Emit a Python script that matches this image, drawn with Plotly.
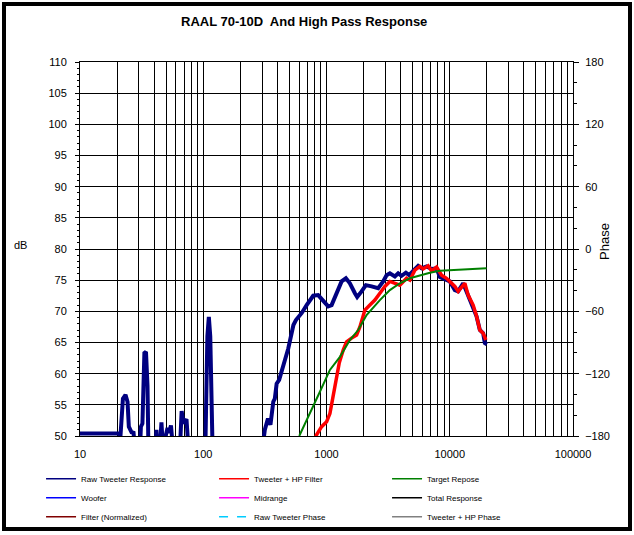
import plotly.graph_objects as go

# frequency response readings (Hz, dB)
raw_freq = [10, 20.7, 21.3, 22.3, 23.4,
            24.3, 24.9, 26.2, 27.2, 27.9,
            30.7, 31.2, 32.1, 33.3, 34.3,
            35.3, 35.9, 40.9, 41.7, 42.5,
            44.5, 45.8, 47.1, 51.3, 52.7,
            54.7, 56.8, 64.7, 66.8, 69.1,
            73.1, 75.8, 104, 108, 111,
            114, 119, 302, 316, 335,
            351, 370, 381, 394, 413,
            432, 460, 489, 521, 539,
            565, 628, 690, 780, 856,
            940, 1032, 1100, 1207, 1326,
            1437, 1548, 1700, 1774, 1926,
            2087, 2321, 2626, 2884, 3072,
            3267, 3586, 3815, 4064, 4405,
            4685, 5050, 5543, 5906, 6486,
            7118, 7816, 8313, 9128, 10020,
            11000, 11700, 12850, 13690, 14560,
            15490, 16500, 17540, 18660, 19270,
            20000]
raw_db = [50.4, 50.4, 50.0, 56.0, 56.6,
          55.5, 51.5, 50.6, 50.5, 48,
          48, 51.5, 52.0, 63.3, 63.5,
          58.0, 48, 48, 51.0, 48,
          48, 52.2, 48, 51.3, 50.5,
          51.7, 48, 48, 54.0, 52.0,
          52.7, 48, 48, 66.0, 69.1,
          66.0, 48, 48, 51.0, 52.8,
          51.8, 55.5, 56.0, 58.4, 59.0,
          60.5, 62.2, 64.0, 66.5, 67.8,
          68.6, 69.7, 71.0, 72.5, 72.6,
          71.8, 70.8, 71.0, 72.9, 74.8,
          75.3, 74.5, 72.9, 72.3, 73.2,
          74.2, 74.0, 73.7, 74.8, 75.8,
          76.1, 75.6, 76.1, 75.7, 76.2,
          75.8, 76.5, 77.3, 76.9, 77.2,
          76.8, 76.9, 75.5, 75.1, 74.8,
          73.4, 73.2, 74.5, 73.2, 71.8,
          70.8, 69.2, 67.0, 66.5, 64.9,
          64.7]

hp_freq = [810, 831, 913, 1002, 1066, 1133, 1207, 1268, 1366, 1455, 1598,
           1754, 1866, 2048, 2249, 2469, 2711, 2976, 3267, 3586, 3937,
           4462, 4747, 5212, 5722, 6084, 6680, 7118, 7816, 8582, 9420,
           10020, 11000, 11700, 13260, 14100, 15490, 16500, 17540, 18660, 19630]
hp_db = [49.6, 50.2, 51.5, 52.3, 53.6, 56.3, 59.0, 61.7, 63.8, 65.1, 65.7,
         66.2, 67.5, 70.2, 71.0, 71.8, 72.9, 74.0, 74.8, 74.5, 74.2,
         75.3, 75.0, 76.6, 77.2, 76.8, 77.3, 76.5, 77.1, 75.8, 75.3,
         74.8, 74.0, 73.2, 74.5, 72.6, 71.0, 69.2, 67.0, 66.5, 65.4]

target_freq = [601, 734, 884, 1066, 1285, 1548, 1807, 2114, 2249, 2711,
               3267, 3937, 4747, 5722, 6897, 8313, 10660, 13690, 19890]
target_db = [50.0, 53.6, 57.1, 60.6, 62.7, 65.4, 67.0, 69.4, 70.0, 71.8,
             73.4, 74.5, 75.3, 75.8, 76.2, 76.5, 76.6, 76.8, 76.9]

legend_names = ["Raw Tweeter Response", "Tweeter + HP Filter", "Target Repose",
                "Woofer", "Midrange", "Total Response",
                "Filter (Normalized)", "Raw Tweeter Phase", "Tweeter + HP Phase"]
legend_colors = ["#000080", "#FF0000", "#008000",
                 "#0000FF", "#FF00FF", "#000000",
                 "#800000", "#00CCFF", "#808080"]

decades = [10, 100, 1000, 10000, 100000]
grid_freqs = [d * k for d in decades[:-1] for k in range(1, 10)] + [100000]
grid_text = [str(f) if f in decades else "" for f in grid_freqs]

FONT = "Liberation Sans, Arial, sans-serif"

fig = go.Figure()
fig.add_trace(go.Scatter(x=raw_freq, y=raw_db, mode="lines", showlegend=False,
                         line=dict(color="#000080", width=4)))
fig.add_trace(go.Scatter(x=hp_freq, y=hp_db, mode="lines", showlegend=False,
                         line=dict(color="#FF0000", width=3.5)))
fig.add_trace(go.Scatter(x=target_freq, y=target_db, mode="lines", showlegend=False,
                         line=dict(color="#008000", width=2)))

# legend entries (thin lines like the original key)
for name, col in zip(legend_names, legend_colors):
    dash = "dash" if name == "Raw Tweeter Phase" else "solid"
    fig.add_trace(go.Scatter(x=[None], y=[None], mode="lines", name=name,
                             line=dict(color=col, width=1.5, dash=dash)))

# invisible trace so the phase axis exists
fig.add_trace(go.Scatter(x=[None], y=[None], yaxis="y2", showlegend=False, hoverinfo="skip"))

fig.update_layout(
    width=634, height=535,
    margin=dict(l=80, r=61, t=62, b=99, autoexpand=False),
    paper_bgcolor="white", plot_bgcolor="white",
    font=dict(family=FONT, size=11, color="black"),
    xaxis=dict(type="log", range=[1, 5], tickvals=grid_freqs, ticktext=grid_text,
               showgrid=True, gridcolor="black", gridwidth=1,
               showline=True, linecolor="black", linewidth=1, mirror=True,
               ticks="", ticklabelstandoff=8, zeroline=False,
               tickfont=dict(size=11)),
    yaxis=dict(range=[50, 110], dtick=5, showgrid=True, gridcolor="black", gridwidth=1,
               showline=True, linecolor="black", linewidth=1,
               ticks="outside", ticklen=4, tickcolor="black", tickwidth=1,
               minor=dict(dtick=1, ticks="outside", ticklen=2, tickcolor="black", showgrid=False),
               zeroline=False, tickfont=dict(size=11), ticklabelstandoff=6),
    yaxis2=dict(range=[-180, 180], dtick=60, overlaying="y", side="right",
                showgrid=False, showline=True, linecolor="black", linewidth=1,
                ticks="outside", ticklen=5, tickcolor="black",
                minor=dict(dtick=20, ticks="outside", ticklen=3, tickcolor="black"),
                zeroline=False, tickfont=dict(size=11), ticklabelstandoff=4),
    legend=dict(orientation="h", x=-0.079, xanchor="left", y=-0.0757, yanchor="top",
                entrywidth=128, entrywidthmode="pixels", tracegroupgap=0,
                font=dict(size=8, family=FONT), bgcolor="rgba(0,0,0,0)"),
    annotations=[
        dict(text="<b>RAAL 70-10D  And High Pass Response</b>", xref="paper", yref="paper",
             x=(304 - 80) / 493, y=1 + (62 - 21) / 374, xanchor="center", yanchor="middle",
             showarrow=False, font=dict(size=13)),
        dict(text="dB", xref="paper", yref="paper", x=(20 - 80) / 493, y=(436 - 245) / 374,
             xanchor="center", yanchor="middle", showarrow=False, font=dict(size=11)),
        dict(text="Phase", xref="paper", yref="paper", x=1 + (604 - 573) / 493,
             y=(436 - 242) / 374, xanchor="center", yanchor="middle",
             showarrow=False, textangle=-90, font=dict(size=13)),
    ],
    shapes=[
        dict(type="rect", xref="paper", yref="paper",
             x0=(4 - 80) / 493, x1=1 + (630 - 573) / 493,
             y0=-(529 - 436) / 374, y1=1 + (62 - 4) / 374,
             line=dict(color="black", width=4)),
    ],
)

# the page's default body margin would push the chart 8px off the window corner
fig.write_html("out.html", config={"displayModeBar": False},
               post_script="document.body.style.margin='0px';")
